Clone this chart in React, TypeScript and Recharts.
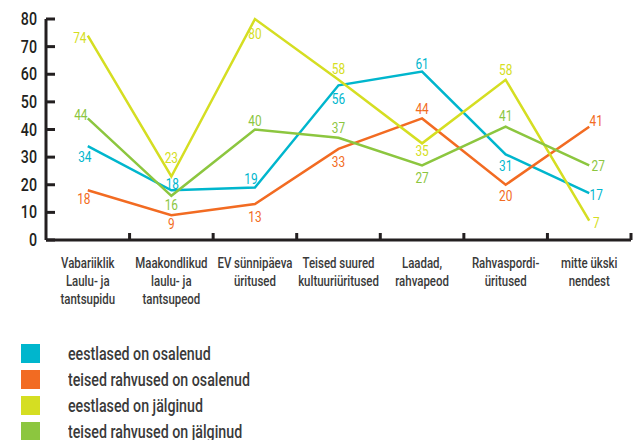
import { LabelList, Line, LineChart, XAxis, YAxis } from "recharts";

const categories = [
  "Vabariiklik\nLaulu- ja\ntantsupidu",
  "Maakondlikud\nlaulu- ja\ntantsupeod",
  "EV sünnipäeva\nüritused",
  "Teised suured\nkultuuriüritused",
  "Laadad,\nrahvapeod",
  "Rahvaspordi-\nüritused",
  "mitte ükski\nnendest",
];

const estOsalenud = [34, 18, 19, 56, 61, 31, 17];
const teisedOsalenud = [18, 9, 13, 33, 44, 20, 41];
const estJalginud = [74, 23, 80, 58, 35, 58, 7];
const teisedJalginud = [44, 16, 40, 37, 27, 41, 27];

const yTicks = [0, 10, 20, 30, 40, 50, 60, 70, 80];

const FONT = "Roboto, 'DejaVu Sans', sans-serif";
const SQUEEZE = 0.79; // the original font is a condensed one
const WIDTH = 637;
const HEIGHT = 440;
const MARGIN = { top: 19, right: 6, bottom: 120, left: 0 };
const Y_WIDTH = 46;
const BAND = (WIDTH - MARGIN.left - MARGIN.right - Y_WIDTH) / categories.length;

// label nudges [dx, dy] from each point
const nudges: Record<string, [number, number][]> = {
  cyan: [[-3, 10], [1, -7], [-4, -9], [0, 13], [0, -8], [0, 11], [7, 1]],
  orange: [[-4, 8], [0, 8], [0, 12], [0, 13], [0, -10], [0, 11], [7, -6]],
  yellow: [[-8, 2], [0, -19], [0, 14], [0, -11], [0, 7], [0, -10], [7, 2]],
  green: [[-7, -4], [0, 9], [0, -9], [0, -10], [0, 12], [0, -11], [9, 0]],
};

const series = [
  { key: "estOsalenud", name: "eestlased on osalenud", color: "#00b6cd", nudge: "cyan" },
  { key: "teisedOsalenud", name: "teised rahvused on osalenud", color: "#f26b22", nudge: "orange" },
  { key: "estJalginud", name: "eestlased on jälginud", color: "#d5de22", nudge: "yellow" },
  { key: "teisedJalginud", name: "teised rahvused on jälginud", color: "#8cc63f", nudge: "green" },
];

const data = categories.map((label, i) => ({
  label,
  estOsalenud: estOsalenud[i],
  teisedOsalenud: teisedOsalenud[i],
  estJalginud: estJalginud[i],
  teisedJalginud: teisedJalginud[i],
}));

const AXIS = "#231f20";
const TEXT = "#3a3a3a";

function Narrow({ x, y, anchor = "middle", size, color, weight = 500, children }: any) {
  return (
    <text
      transform={`translate(${x},${y}) scale(${SQUEEZE},1)`}
      textAnchor={anchor}
      dominantBaseline="central"
      fontFamily={FONT}
      fontSize={size}
      fontWeight={weight}
      fill={color}
    >
      {children}
    </text>
  );
}

function YTick({ x, y, payload }: any) {
  return (
    <g>
      <line x1={x + 9} x2={x + 18} y1={y} y2={y} stroke={AXIS} strokeWidth={3} />
      <Narrow x={x} y={y} anchor="end" size={18} color={AXIS}>
        {payload.value}
      </Narrow>
    </g>
  );
}

function XTick({ x, y, payload }: any) {
  const lines = String(payload.value).split("\n");
  return (
    <g>
      <line x1={x + BAND / 2} x2={x + BAND / 2} y1={y} y2={y - 7} stroke={AXIS} strokeWidth={3} />
      {lines.map((line, i) => (
        <Narrow key={i} x={x} y={y + 23 + i * 18} size={14.5} color={TEXT}>
          {line}
        </Narrow>
      ))}
    </g>
  );
}

const makeLabel = (color: string, offsets: [number, number][]) => (props: any) => {
  const { x, y, value, index } = props;
  const [dx, dy] = offsets[index] ?? [0, -10];
  return (
    <Narrow x={x + dx} y={y + dy} size={15} color={color} weight={400}>
      {value}
    </Narrow>
  );
};

export default function App() {
  return (
    <div style={{ position: "relative", width: WIDTH, height: HEIGHT, background: "#fff" }}>
      <style>{`body{margin:0}`}</style>
      <LineChart width={WIDTH} height={HEIGHT} data={data} margin={MARGIN}>
        <XAxis
          dataKey="label"
          interval={0}
          height={80}
          padding={{ left: BAND / 2, right: BAND / 2 }}
          tickSize={0}
          tickMargin={0}
          tick={<XTick />}
          axisLine={{ stroke: AXIS, strokeWidth: 3 }}
          tickLine={false}
        />
        <YAxis
          domain={[0, 80]}
          ticks={yTicks}
          width={Y_WIDTH}
          tickSize={0}
          tickMargin={9}
          tick={<YTick />}
          axisLine={{ stroke: AXIS, strokeWidth: 3 }}
          tickLine={false}
        />
        {series.map((s) => (
          <Line
            key={s.key}
            type="linear"
            dataKey={s.key}
            stroke={s.color}
            strokeWidth={2.5}
            dot={false}
            activeDot={false}
            isAnimationActive={false}
          >
            <LabelList dataKey={s.key} content={makeLabel(s.color, nudges[s.nudge])} />
          </Line>
        ))}
      </LineChart>
      <div style={{ position: "absolute", left: 21, top: 344, fontFamily: FONT }}>
        {series.map((s) => (
          <div key={s.key} style={{ display: "flex", alignItems: "center", height: 26 }}>
            <div style={{ width: 19, height: 19, background: s.color, marginTop: -7, flex: "none" }} />
            <span
              style={{
                display: "inline-block",
                marginLeft: 28,
                marginTop: -7,
                fontSize: 18,
                fontWeight: 500,
                color: TEXT,
                whiteSpace: "nowrap",
                transform: `scaleX(${SQUEEZE})`,
                transformOrigin: "left center",
              }}
            >
              {s.name}
            </span>
          </div>
        ))}
      </div>
    </div>
  );
}
